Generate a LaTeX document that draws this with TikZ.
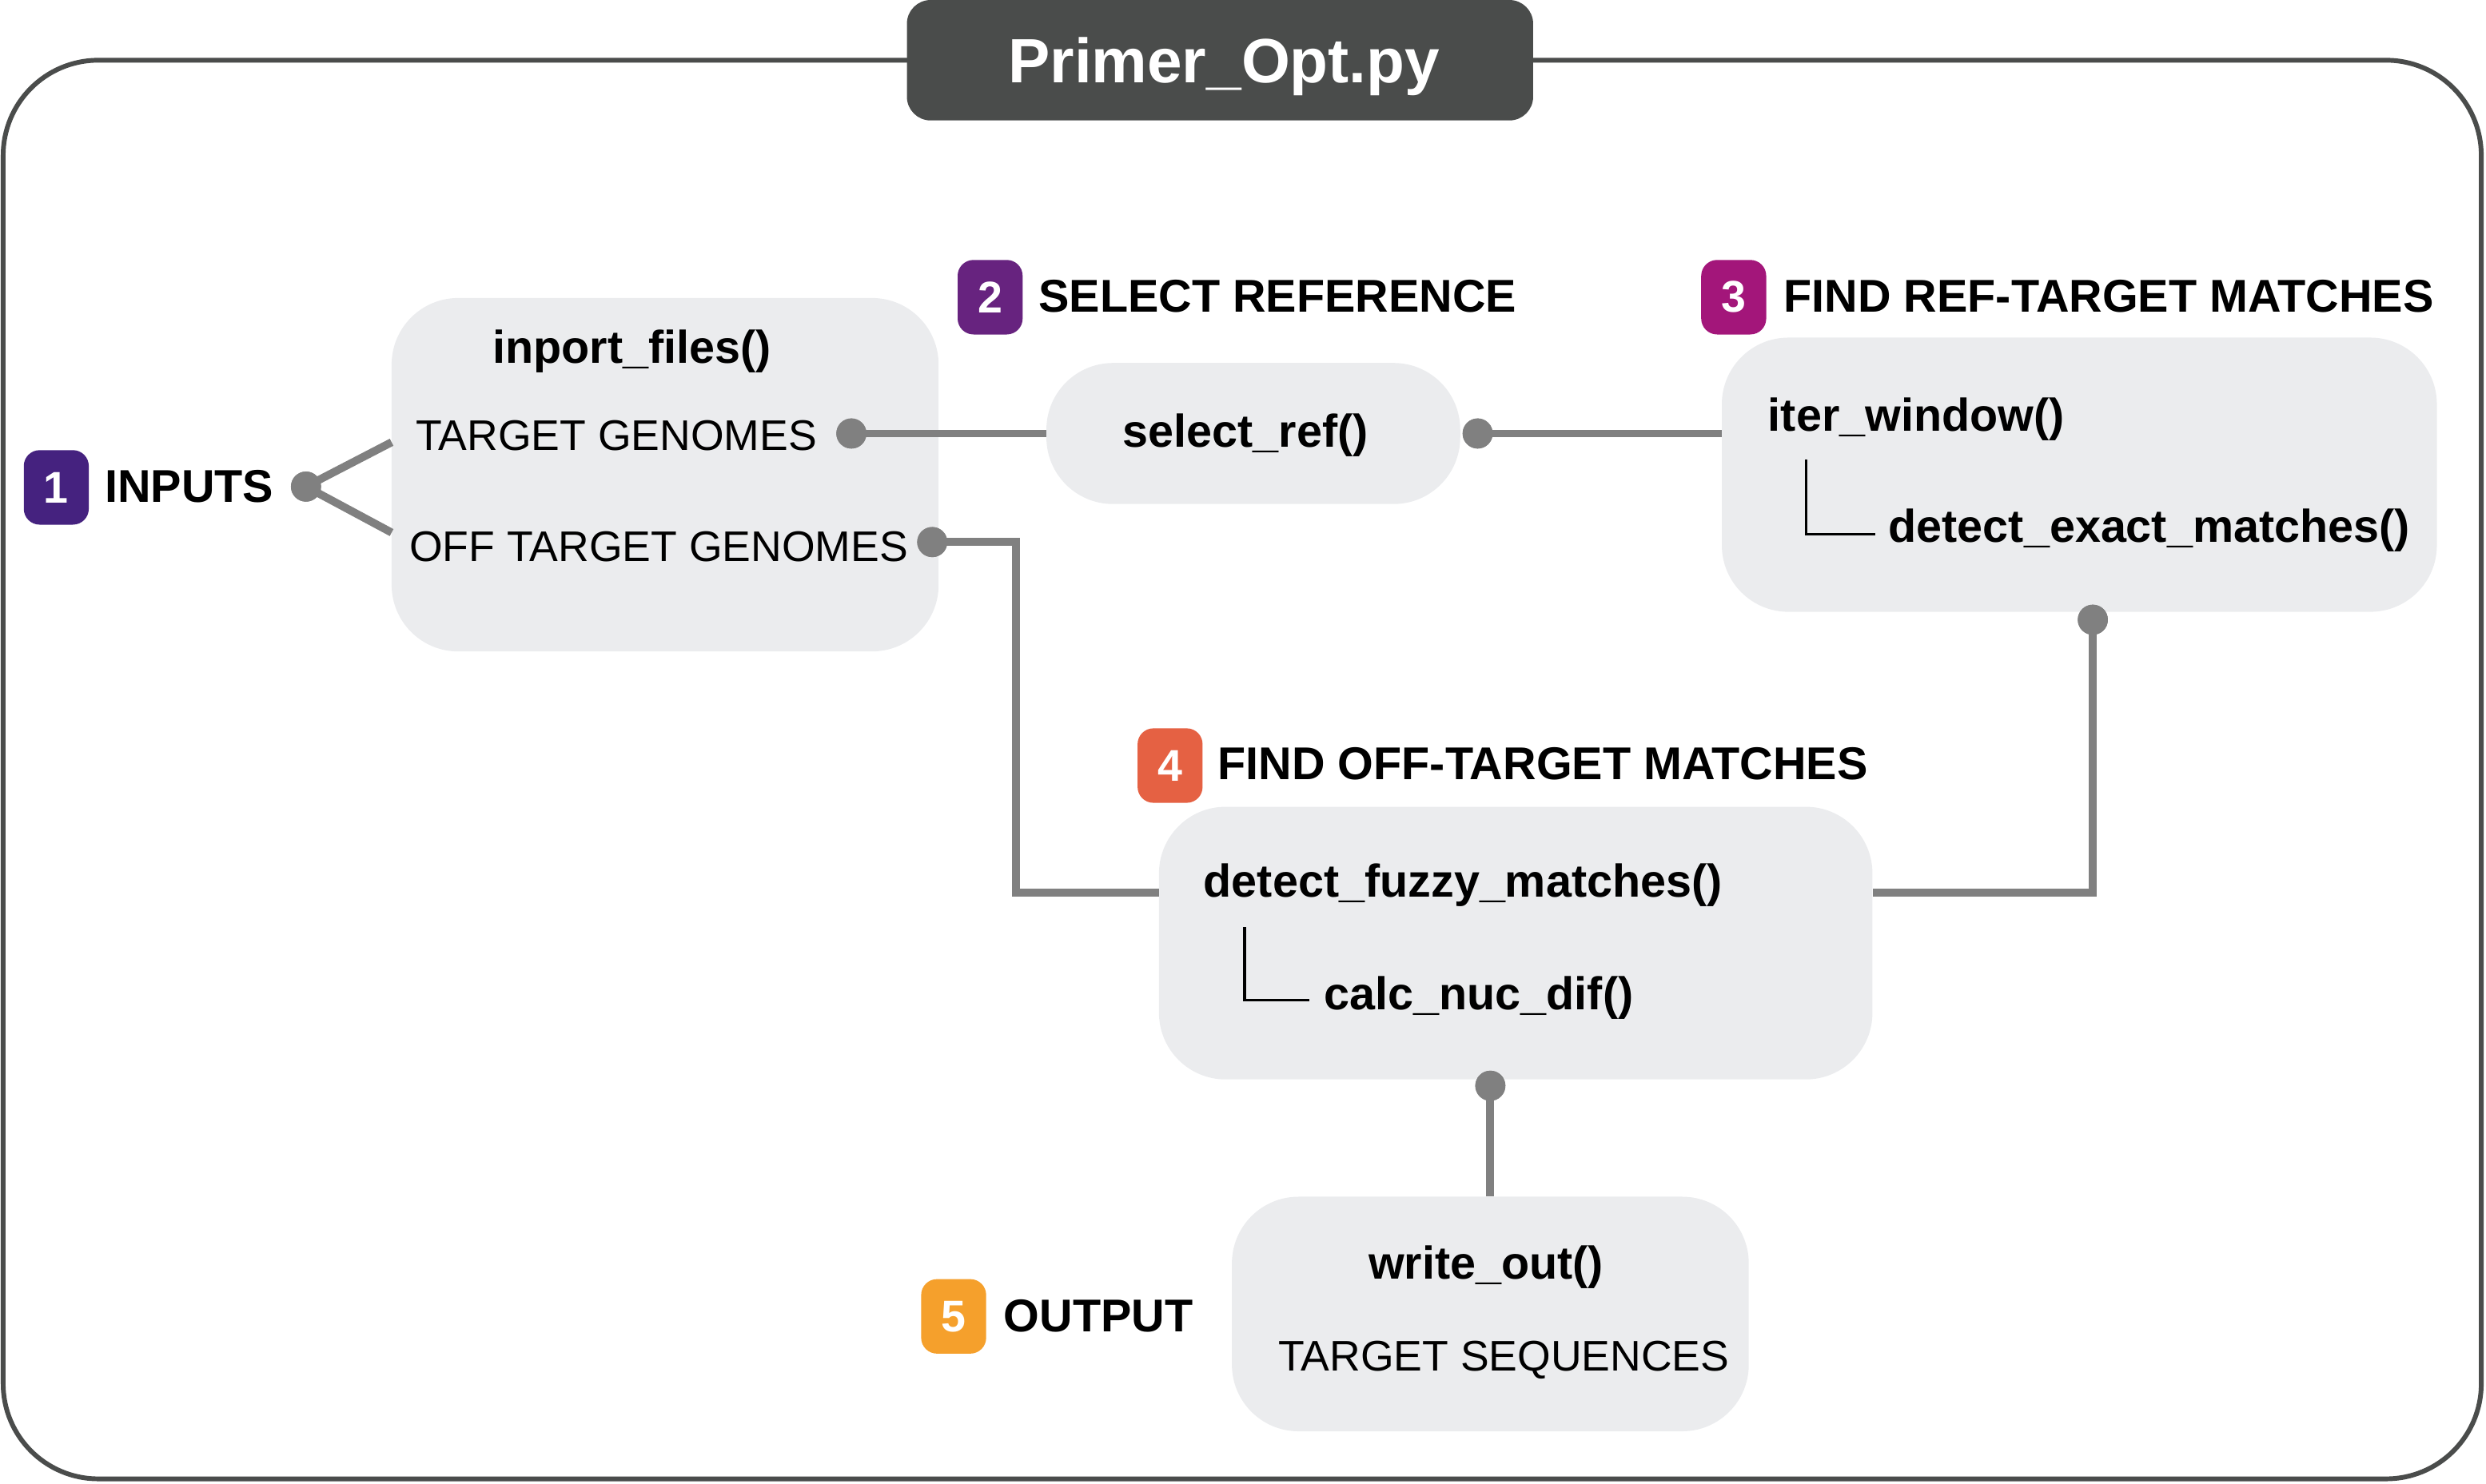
\documentclass[tikz,border=0pt]{standalone}
\usepackage{fontspec}
\setmainfont{Liberation Sans}
\definecolor{framec}{HTML}{4A4C4B}
\definecolor{boxfill}{HTML}{EBECEE}
\definecolor{connc}{HTML}{808080}
\definecolor{bA}{HTML}{45227F}
\definecolor{bB}{HTML}{67237F}
\definecolor{bC}{HTML}{A3167A}
\definecolor{bD}{HTML}{E56143}
\definecolor{bE}{HTML}{F5A02C}
\tikzset{
  gbox/.style={fill=boxfill, draw=none, rounded corners=42pt, inner sep=0pt},
  badge/.style={fill=#1, rounded corners=10pt, minimum width=41pt, minimum height=47pt, inner sep=0pt, text=white, font=\bfseries\fontsize{28}{28}\selectfont},
  lab/.style={anchor=base west, inner sep=0pt, font=\bfseries\fontsize{29}{29}\selectfont},
  txt/.style={anchor=base west, inner sep=0pt, font=\fontsize{27}{27}\selectfont},
  connline/.style={draw=connc, line width=5pt},
  dotc/.style={circle, fill=connc, minimum size=19pt, inner sep=0pt},
  treeline/.style={draw=black, line width=1.6pt},
}
\begin{document}
\begin{tikzpicture}[x=1pt,y=-1pt]
\useasboundingbox (0,0) rectangle (1568,936);
% frame
\draw[framec, line width=3pt, rounded corners=60pt] (2,38) rectangle (1565,933);
\node[fill=framec, rounded corners=15pt, minimum width=395pt, minimum height=76pt, inner sep=0pt] (title) at (769.5,38) {};
\node[anchor=base, inner sep=0pt, text=white, font=\bfseries\fontsize{39.5}{39.5}\selectfont] (titletxt) at (772,52) {Primer\_Opt.py};

% boxes
\node[gbox, minimum width=345pt, minimum height=223pt] (imp) at (419.5,299.5) {};
\node[gbox, minimum width=261pt, minimum height=89pt] (sel) at (790.5,273.5) {};
\node[gbox, minimum width=451pt, minimum height=173pt] (ref) at (1311.5,299.5) {};
\node[gbox, minimum width=450pt, minimum height=172pt] (fuz) at (956,595) {};
\node[gbox, minimum width=326pt, minimum height=148pt] (out) at (940,829) {};

% badges and labels
\node[badge=bA] (b1) at (35.5,307.5) {1};
\node[badge=bB] (b2) at (624.5,187.5) {2};
\node[badge=bC] (b3) at (1093.5,187.5) {3};
\node[badge=bD] (b4) at (738,483) {4};
\node[badge=bE] (b5) at (601.5,830.5) {5};
\node[lab] (l1) at (66,317) {INPUTS};
\node[lab] (l2) at (655,197) {SELECT REFERENCE};
\node[lab] (l3) at (1125,197) {FIND REF-TARGET MATCHES};
\node[lab] (l4) at (768,492) {FIND OFF-TARGET MATCHES};
\node[lab] (l5) at (633,840) {OUTPUT};

% box texts
\node[lab, anchor=base] (t1) at (398.5,229) {inport\_files()};
\node[txt] (tg) at (262,284) {TARGET GENOMES};
\node[txt] (otg) at (258,354) {OFF TARGET GENOMES};
\node[lab] (t2) at (708,282) {select\_ref()};
\node[lab] (t3) at (1115,272) {iter\_window()};
\node[lab] (t3b) at (1191,342) {detect\_exact\_matches()};
\node[lab] (t4) at (759,566) {detect\_fuzzy\_matches()};
\node[lab] (t4b) at (835,637) {calc\_nuc\_dif()};
\node[lab] (t5) at (863,807) {write\_out()};
\node[txt] (ts) at (806,865) {TARGET SEQUENCES};

% tree lines
\coordinate (trA) at (1139,290);
\coordinate (trB) at (1183,337);
\draw[treeline] (trA) |- (trB);
\coordinate (trC) at (785,585);
\coordinate (trD) at (826,631);
\draw[treeline] (trC) |- (trD);

% connectors
\node[dotc] (d1) at (193,307) {};
\coordinate (inA) at (247,279);
\coordinate (inB) at (247,336);
\draw[connline] (inA) -- (d1.center) -- (inB);
\node[dotc] (d2) at (537,273.5) {};
\draw[connline] (d2.center) -- (sel.west);
\node[dotc] (d3) at (932,273.5) {};
\draw[connline] (d3.center) -- (ref.west |- d3);
\node[dotc] (d4) at (588,342) {};
\coordinate (k1) at (641,342);
\coordinate (k2) at (641,563);
\draw[connline] (d4.center) -- (k1) -- (k2) -- (fuz.west |- k2);
\node[dotc] (d5) at (1320,391) {};
\coordinate (k3) at (1320,563);
\draw[connline] (fuz.east |- k3) -- (k3) -- (d5.center);
\node[dotc] (d6) at (940,685) {};
\draw[connline] (d6.center) -- (out.north);
% redraw dots on top
\foreach \d in {d1,d2,d3,d4,d5,d6} \fill[connc] (\d) circle (9.5pt);
\end{tikzpicture}
\end{document}
